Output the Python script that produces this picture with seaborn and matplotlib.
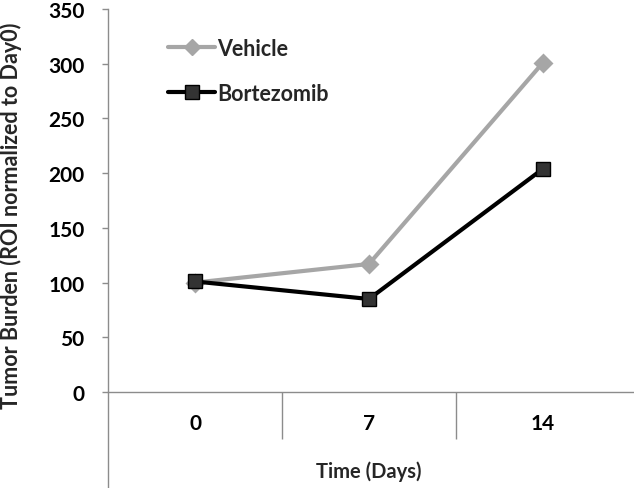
import matplotlib
matplotlib.use("Agg")
import matplotlib.pyplot as plt
import seaborn as sns
import pandas as pd
from matplotlib.lines import Line2D

days = ["0", "7", "14"]
vehicle = [100, 117, 301]
bortezomib = [101, 85, 204]
series_names = ["Vehicle", "Bortezomib"]
y_ticks = [0, 50, 100, 150, 200, 250, 300, 350]

df = pd.DataFrame({
    "Day": days * 2,
    "Value": vehicle + bortezomib,
    "Group": [series_names[0]] * 3 + [series_names[1]] * 3,
})

sns.set_theme(style="white")
plt.rcParams['font.family'] = ['Lato', 'DejaVu Sans']
plt.rcParams['font.weight'] = 'bold'

GRAY = '#a6a6a6'
W, H = 634, 489
fig = plt.figure(figsize=(W / 100, H / 100), dpi=100)
ax = fig.add_axes([108 / W, 1 - 393 / H, (634 - 108) / W, (393 - 10) / H])

sns.pointplot(data=df, x="Day", y="Value", hue="Group", order=days,
              hue_order=series_names,
              palette={"Vehicle": GRAY, "Bortezomib": "#000000"},
              markers=["D", "s"], linestyles=["-", "-"], ax=ax,
              errorbar=None, legend=False)

for ln in ax.lines:
    ln.set_linewidth(3.0)
    if ln.get_marker() == 's':
        ln.set_markersize(10)
        ln.set_markerfacecolor('#333333')
        ln.set_markeredgecolor('#000000')
        ln.set_markeredgewidth(1.0)
    elif ln.get_marker() == 'D':
        ln.set_markersize(8)
        ln.set_markerfacecolor(GRAY)
        ln.set_markeredgecolor(GRAY)
for coll in ax.collections:
    fc = coll.get_facecolor()
    if len(fc) and fc[0][0] < 0.3:
        coll.set_sizes([110])
        coll.set_facecolor('#333333')
        coll.set_edgecolor('#000000')
        coll.set_linewidth(1.0)
    else:
        coll.set_sizes([70])

ax.set_ylim(0, 350)
ax.set_xlim(-0.5, 2.5 + 4 / 174)
ax.set_yticks(y_ticks)
ax.set_yticklabels([str(v) for v in y_ticks], fontsize=15, fontweight='bold')

ax.set_xticks([0.5, 1.5])
ax.set_xticklabels([])
ax.set_xticks([0, 1, 2], minor=True)
ax.set_xticklabels(days, minor=True, fontsize=15, fontweight='bold')
ax.tick_params(axis='x', which='major', direction='out', length=34, width=1.0,
               color='#8c8c8c', bottom=True)
ax.tick_params(axis='x', which='minor', length=0, pad=15, labelcolor='black')
ax.tick_params(axis='y', direction='out', length=4, width=1.0, color='#8c8c8c',
               left=True, pad=13, labelcolor='black')

for s in ['top', 'right']:
    ax.spines[s].set_visible(False)
for s in ['left', 'bottom']:
    ax.spines[s].set_color('#8c8c8c')
    ax.spines[s].set_linewidth(1.0)
ax.spines['left'].set_bounds(-90, 350)

ax.set_xlabel("Time (Days)", fontsize=14.5, fontweight='bold')
ax.set_ylabel("Tumor Burden (ROI normalized to Day0)", fontsize=15.5,
              fontweight='bold')
ax.yaxis.set_label_coords(-0.163, 0.462)
ax.xaxis.set_label_coords(0.496, -0.178)

handles = [
    Line2D([], [], color=GRAY, lw=3, marker='D', markersize=8,
           markerfacecolor=GRAY, markeredgecolor=GRAY),
    Line2D([], [], color='#000000', lw=3, marker='s', markersize=10,
           markerfacecolor='#333333', markeredgecolor='#000000'),
]
ax.legend(handles, series_names, loc='upper left',
          bbox_to_anchor=(60 / 526, 1 - 29 / 383), frameon=False,
          prop={'weight': 'bold', 'size': 15.5}, handlelength=2.2,
          handletextpad=0.1, labelspacing=1.1, borderaxespad=0,
          borderpad=0)

fig.savefig("out.png", dpi=100)
